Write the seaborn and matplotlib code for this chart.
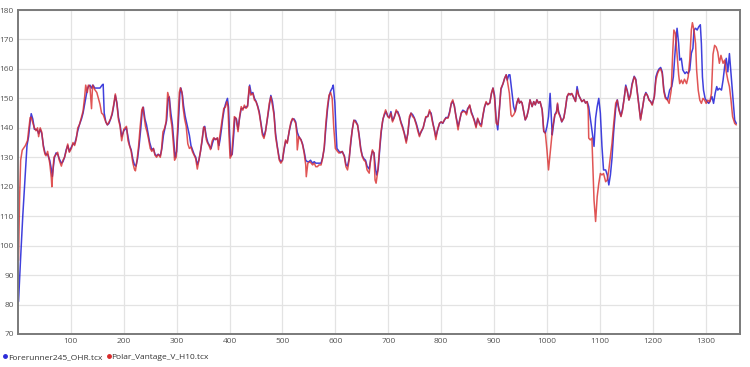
import matplotlib
matplotlib.use("Agg")
import matplotlib.pyplot as plt
import seaborn as sns
import pandas as pd
from matplotlib.lines import Line2D

series_names = ["Forerunner245_OHR.tcx", "Polar_Vantage_V_H10.tcx"]
series_colors = ["#2b2bd9", "#d92b2b"]

x_ticks = [100, 200, 300, 400, 500, 600, 700, 800, 900, 1000, 1100, 1200, 1300]
y_ticks = [70, 80, 90, 100, 110, 120, 130, 140, 150, 160, 170, 180]

# Polar (red) series: sample position and heart rate
polar_x = [1, 3, 5, 8, 14, 18, 20, 23, 25, 28, 31, 34, 37, 39, 42, 45, 48, 51, 53, 56,
           60, 63, 64, 66, 68, 72, 75, 78, 82, 85, 88, 91, 94, 97, 101, 104, 107, 110, 113, 116,
           120, 123, 126, 128, 131, 133, 136, 139, 141, 145, 149, 152, 155, 158, 161, 166, 169, 172, 175, 178,
           181, 184, 187, 190, 193, 196, 200, 205, 208, 211, 214, 217, 220, 222, 225, 228, 231, 234, 236, 239,
           241, 244, 247, 250, 253, 256, 259, 262, 265, 269, 271, 274, 277, 280, 283, 286, 288, 291, 294, 296,
           299, 302, 305, 307, 310, 312, 315, 318, 321, 324, 327, 330, 333, 336, 339, 342, 345, 348, 351, 353,
           356, 358, 361, 364, 367, 370, 373, 377, 379, 381, 384, 386, 389, 392, 395, 397, 399, 401, 404, 407,
           409, 412, 416, 419, 422, 425, 428, 431, 434, 437, 440, 444, 447, 450, 453, 456, 459, 462, 465, 468,
           471, 475, 478, 481, 484, 487, 490, 494, 497, 500, 503, 506, 509, 513, 516, 519, 522, 525, 527, 528,
           531, 535, 538, 541, 544, 545, 548, 552, 557, 560, 563, 566, 569, 573, 576, 579, 582, 585, 588, 591,
           594, 597, 600, 604, 607, 610, 613, 617, 620, 623, 626, 629, 632, 635, 638, 642, 645, 648, 651, 654,
           657, 660, 664, 667, 670, 673, 675, 677, 680, 683, 686, 689, 692, 695, 699, 702, 705, 708, 711, 715,
           718, 721, 724, 727, 730, 734, 737, 740, 743, 746, 749, 753, 756, 759, 762, 766, 768, 771, 775, 778,
           781, 784, 787, 790, 793, 797, 800, 803, 806, 809, 813, 816, 819, 822, 825, 828, 832, 835, 838, 841,
           845, 848, 850, 854, 857, 860, 863, 866, 869, 873, 876, 879, 882, 885, 888, 892, 895, 898, 901, 904,
           907, 910, 913, 917, 920, 923, 925, 929, 932, 934, 937, 940, 943, 946, 948, 951, 953, 956, 959, 962,
           965, 968, 972, 975, 978, 981, 984, 987, 991, 994, 997, 1000, 1003, 1008, 1011, 1015, 1018, 1020, 1022, 1025,
           1028, 1032, 1035, 1038, 1041, 1044, 1047, 1050, 1054, 1057, 1060, 1063, 1066, 1070, 1073, 1076, 1078, 1079, 1082, 1085,
           1089, 1092, 1095, 1098, 1101, 1104, 1107, 1111, 1114, 1117, 1120, 1123, 1126, 1130, 1133, 1136, 1140, 1143, 1146, 1149,
           1152, 1155, 1158, 1161, 1165, 1168, 1171, 1174, 1177, 1181, 1184, 1187, 1190, 1193, 1196, 1199, 1203, 1206, 1209, 1212,
           1215, 1218, 1221, 1224, 1228, 1231, 1235, 1238, 1240, 1243, 1246, 1249, 1251, 1254, 1257, 1260, 1264, 1267, 1270, 1273,
           1275, 1278, 1281, 1283, 1286, 1289, 1292, 1295, 1298, 1301, 1304, 1308, 1311, 1314, 1317, 1320, 1323, 1326, 1329, 1333,
           1336, 1339, 1342, 1345, 1348, 1351, 1355, 1358]
polar_hr = [95, 116, 129, 132.4, 134, 135.7, 139, 143.5, 143.6, 141.7, 140, 139, 140, 137, 140, 138.5, 133.5, 131, 130.5, 132,
            128, 123, 120, 125.7, 130, 131, 131.7, 129, 127, 129, 130, 132, 134.5, 131.7, 133, 135, 134, 136, 140, 141,
            143.6, 145.7, 150.5, 154.5, 152, 154.5, 154, 146.5, 154.5, 153, 152, 150, 148, 145, 144.5, 142, 141, 142, 143, 145,
            148, 151.5, 148, 142.7, 140.5, 135.6, 139.5, 140.5, 135.6, 133.8, 132, 128.2, 126, 125.4, 129, 133.8, 140.5, 146, 147, 143,
            140.5, 138.6, 136, 133, 132, 133, 130.7, 130, 131, 130, 132, 138.6, 139.8, 142, 152, 150, 144, 140.6, 134, 129,
            130, 140.5, 152, 153.6, 152, 147, 143, 140.5, 134.6, 133, 133.5, 131.8, 130.7, 129.5, 126, 129, 132, 136, 140.3, 140,
            136, 135, 134, 132.6, 135.5, 136.6, 136, 136.6, 132.6, 136.6, 140.3, 142.6, 146.6, 147, 148.9, 147.2, 137, 129.7, 130.8, 138.1,
            143.8, 143.3, 138.7, 143.8, 147.2, 146, 147.7, 146.6, 147.2, 154, 151.1, 151.7, 149.4, 148.9, 147.2, 145, 141.5, 137.6, 136.4, 138.7,
            142.6, 148.3, 150.6, 147.7, 144.4, 137, 133.6, 129, 128, 129, 133, 135.9, 134.7, 139.3, 142, 143.2, 142.6, 141.5, 138.1, 132.5,
            137, 135.9, 134.2, 131.4, 127.4, 123.4, 128, 128.5, 127.4, 128, 126.8, 126.8, 127.4, 127.4, 129.7, 133.6, 141.5, 147.2, 151.1, 152,
            150, 140, 133, 132, 131.4, 131.8, 131.9, 130.2, 126.8, 125.7, 129, 135.3, 139.3, 142.6, 142, 140.9, 137, 132.5, 130.2, 129,
            128.5, 125.7, 124.6, 129.7, 132.5, 131.4, 122.3, 121.2, 125, 131.4, 138.2, 142, 144.4, 146.1, 143.8, 143.3, 145, 142, 143.3, 146.1,
            145, 143.8, 141.6, 140, 138.2, 134.8, 138.2, 143.8, 145, 143.8, 143.3, 141, 138.8, 137, 138.8, 140, 141.6, 143.8, 143.8, 146.1,
            144.4, 141.6, 139.3, 136, 139.3, 141.6, 142, 141.6, 142.7, 143.3, 143.3, 145, 148.4, 149.5, 147.2, 143.8, 139.3, 142.7, 145, 145.5,
            145.5, 144.4, 146.1, 147.8, 145, 143.8, 142.1, 140, 143.3, 141, 140.4, 144.4, 147.2, 148.9, 147.8, 148.4, 151.8, 153.5, 150, 141.6,
            141, 146, 153.4, 155, 156.8, 158, 156.2, 151.7, 144.4, 143.8, 144.4, 145.5, 148.4, 150, 148.4, 149, 148.4, 145.5, 142.7, 143.8,
            146.1, 149.5, 147.2, 148.9, 147.8, 149.5, 148.4, 148.9, 146.1, 138.8, 138.2, 132.5, 125.7, 134.8, 140.4, 144.4, 145, 148.4, 145, 143.8,
            142.1, 143.3, 146.7, 150.6, 151.7, 151.1, 151.7, 150.6, 148.9, 152.8, 151.1, 150, 148.9, 149.5, 148.4, 148.9, 146, 136.5, 135.9, 136.5,
            115.5, 108.2, 116.6, 121.1, 124.5, 124, 124.5, 121.7, 122.3, 125.7, 130.2, 134.8, 141, 148.4, 149.4, 146, 143.8, 146, 150, 154,
            152.3, 149.4, 151, 154.5, 157.3, 156.2, 151.7, 147.2, 142.6, 147.2, 150.6, 151.7, 151, 149.4, 148.8, 147.7, 150.6, 156.2, 158.4, 159.6,
            160, 158.4, 152.3, 150, 149.4, 148.3, 152.8, 166.4, 173.2, 172, 165, 158, 155, 156.2, 155, 156.5, 155, 157.3, 163, 173.2,
            175.7, 173.2, 168.6, 159.6, 152.8, 149.4, 148.3, 150, 149.4, 148.3, 149.4, 148.8, 151.7, 165, 168, 167.4, 165.7, 161.9, 164.6, 161.9,
            163, 159, 156.2, 154, 149.4, 143.8, 141.5, 141]

# Forerunner (blue) series
forerunner_x = [1, 5, 9, 14, 17, 20, 23, 25, 28, 31, 34, 37, 39, 42, 45, 48, 51, 53, 56, 60,
                63, 65, 67, 69, 72, 75, 78, 82, 85, 88, 91, 94, 97, 101, 104, 107, 110, 113, 116, 120,
                123, 126, 129, 131, 133, 136, 139, 142, 145, 150, 155, 159, 161, 163, 166, 169, 172, 175, 178, 181,
                184, 187, 190, 193, 196, 200, 205, 208, 211, 214, 217, 220, 223, 226, 229, 232, 235, 237, 240, 243,
                246, 249, 253, 256, 259, 262, 265, 269, 272, 275, 278, 281, 284, 286, 289, 292, 295, 297, 300, 303,
                306, 308, 311, 313, 316, 319, 322, 324, 327, 330, 333, 336, 339, 342, 345, 348, 351, 353, 356, 359,
                362, 365, 368, 371, 374, 377, 380, 382, 385, 387, 390, 393, 396, 398, 400, 402, 405, 408, 410, 413,
                416, 419, 422, 425, 428, 431, 434, 438, 441, 444, 447, 450, 453, 456, 459, 462, 465, 468, 471, 475,
                478, 481, 484, 487, 490, 494, 497, 500, 503, 506, 509, 513, 516, 519, 522, 525, 528, 531, 535, 538,
                541, 544, 547, 550, 553, 557, 560, 563, 566, 569, 573, 576, 579, 582, 585, 588, 591, 594, 596, 599,
                601, 603, 607, 610, 613, 617, 620, 623, 626, 629, 632, 635, 638, 642, 645, 648, 651, 654, 657, 660,
                664, 667, 670, 673, 676, 678, 681, 684, 687, 690, 693, 696, 699, 702, 705, 708, 711, 715, 718, 721,
                724, 727, 730, 734, 737, 740, 743, 746, 749, 753, 756, 759, 762, 766, 768, 771, 775, 778, 781, 784,
                787, 790, 793, 797, 800, 803, 806, 809, 813, 816, 819, 822, 825, 828, 832, 835, 838, 841, 845, 848,
                850, 854, 857, 860, 863, 866, 869, 873, 876, 879, 882, 885, 888, 892, 895, 898, 901, 904, 907, 910,
                913, 917, 920, 923, 925, 928, 930, 934, 937, 940, 943, 946, 948, 951, 953, 956, 959, 962, 965, 968,
                972, 975, 978, 981, 984, 987, 991, 994, 997, 1000, 1003, 1006, 1010, 1012, 1015, 1018, 1020, 1022, 1025, 1028,
                1032, 1035, 1038, 1041, 1044, 1047, 1050, 1054, 1057, 1060, 1063, 1066, 1070, 1073, 1076, 1079, 1082, 1085, 1089, 1092,
                1095, 1098, 1101, 1104, 1107, 1111, 1114, 1117, 1120, 1123, 1126, 1130, 1133, 1136, 1140, 1143, 1146, 1149, 1152, 1155,
                1158, 1161, 1165, 1168, 1171, 1174, 1177, 1181, 1184, 1187, 1190, 1193, 1196, 1199, 1203, 1206, 1209, 1212, 1215, 1218,
                1221, 1224, 1228, 1232, 1236, 1239, 1243, 1246, 1249, 1251, 1254, 1257, 1261, 1264, 1267, 1270, 1273, 1276, 1278, 1281,
                1284, 1287, 1290, 1292, 1294, 1296, 1299, 1303, 1306, 1309, 1312, 1315, 1318, 1321, 1323, 1326, 1330, 1333, 1336, 1339,
                1342, 1345, 1348, 1351, 1355, 1358]
forerunner_hr = [81, 96, 110, 125, 134, 137, 142, 144.8, 143, 139.5, 139.5, 139, 138, 139.5, 138, 134, 131.5, 131, 131, 129,
                 126, 123.5, 127, 130, 131.5, 131, 129.5, 128, 128.5, 130, 132.5, 134, 132, 133.5, 134.5, 134.5, 136.5, 139, 141, 143,
                 145, 148, 151, 153, 154, 154.5, 153.5, 154.5, 153.5, 153.5, 153.5, 154.5, 154.8, 145, 142, 141, 141.5, 143, 144.5, 147.5,
                 151, 148.5, 143.5, 141, 137, 139, 140, 137, 134, 132.5, 129.5, 127.5, 127, 129.5, 134, 139.5, 146, 147, 143, 141,
                 138, 135, 132.5, 133, 131, 130.5, 131, 130.5, 133, 137.5, 140, 142.5, 150, 150.5, 145, 141, 134.5, 130, 132, 141,
                 151.5, 153.5, 151, 147.5, 144, 141.5, 139, 137.5, 134, 132.5, 131, 130, 127.5, 129, 132, 135.5, 140, 140.5, 137, 135,
                 134, 133, 135, 136.5, 136, 136.5, 134, 136, 140, 143, 146.5, 148.5, 150, 147, 138, 130.5, 131, 138, 143.5, 143,
                 139.5, 143.5, 146.5, 146.5, 147, 147, 147.5, 154.5, 151.5, 152, 150, 149, 147.5, 145.5, 142, 138.5, 137, 139, 142.5, 147.5,
                 151, 149, 145, 138, 134, 129.5, 128.5, 129, 132.5, 135.5, 135, 139, 141.5, 143, 143, 142, 138.5, 137, 136, 134.5,
                 132, 129, 128.5, 128.5, 129, 128, 128.5, 128, 128, 128, 128, 130, 133, 140, 146, 150.5, 152.5, 153.5, 154.5, 148.5,
                 140, 133, 132, 131.5, 132, 130.5, 127.5, 127, 129.5, 134.5, 139.5, 142.5, 142.5, 141, 137.5, 133, 130.5, 129.5, 129, 127,
                 126, 129.5, 132, 131.5, 126, 124, 126, 133, 139, 143, 144.5, 145.5, 144, 143.5, 145.5, 142.5, 143.5, 145.5, 145.5, 144,
                 142, 140.5, 138.5, 135.5, 138, 143, 145, 144.5, 143.5, 141.5, 139.5, 137.5, 138.5, 140, 141.5, 143.5, 144, 145.5, 145, 142,
                 139.5, 137, 139, 141.5, 142, 141.5, 142.5, 143.5, 143.5, 145.5, 148, 149, 147.5, 144, 140.5, 142.5, 145, 146, 145.5, 145,
                 146.5, 147.5, 145.5, 144, 142.5, 140.5, 143, 141.5, 141, 144, 147, 148.5, 148, 148.5, 151.5, 153.5, 151, 143, 139.3, 146,
                 153, 155, 156.8, 158, 156.2, 158, 158, 151.7, 147.2, 145.5, 148.4, 150, 148.4, 149, 148.4, 145.5, 142.7, 143.8, 146.1, 149.5,
                 147.2, 148.9, 147.8, 149.5, 148.4, 148.9, 146.1, 138.8, 138.2, 140.4, 143.8, 151.7, 137.6, 140.5, 144.5, 145.5, 148, 145.5, 144, 142,
                 143.5, 146.5, 150.5, 151.5, 151.5, 151.5, 150.5, 149, 154, 151.1, 150, 148.9, 149.5, 148.4, 148.9, 147.2, 143.3, 139.3, 133.7, 143.3,
                 147.2, 150, 145, 133.7, 125.7, 125.7, 124, 120.6, 124, 129.6, 138.2, 146.7, 149.5, 146.5, 144, 146.5, 150, 154.5, 152.5, 149.5,
                 151.5, 155, 157.5, 156.5, 152, 147.5, 143, 147, 150.5, 152, 151, 149.5, 149, 148, 150.5, 157.3, 159, 160, 160.5, 159,
                 153, 150.5, 149.5, 152.8, 154, 157.3, 167.6, 173.8, 168.6, 163, 163.6, 159.6, 158.4, 159, 158.4, 159.6, 165.3, 167, 173.2, 173.8,
                 173.2, 174.3, 175, 168.6, 157.3, 152.8, 150, 148.8, 148.3, 149.4, 150.6, 148.3, 151.7, 154, 152.8, 153.4, 152.8, 156.2, 160.8, 163.6,
                 159, 165.2, 158.4, 151.7, 142.6, 141.5]

frames = []
for name, xs, ys in [(series_names[0], forerunner_x, forerunner_hr),
                     (series_names[1], polar_x, polar_hr)]:
    frames.append(pd.DataFrame({"t": xs, "hr": ys, "device": name}))
df = pd.concat(frames, ignore_index=True)

sns.set_style("white")
plt.rcParams["font.family"] = ["Open Sans", "DejaVu Sans"]

fig = plt.figure(figsize=(7.5, 3.67), dpi=100)
ax = fig.add_axes([18 / 750, 1 - 334 / 367, 722 / 750, 324 / 367])

for name, color, alpha in zip(series_names, series_colors, [0.9, 0.8]):
    sub = df[df["device"] == name]
    sns.lineplot(data=sub, x="t", y="hr", ax=ax, color=color, linewidth=1.1,
                 alpha=alpha, estimator=None, sort=False, legend=False)

ax.set_xlim(0, 1365)
ax.set_ylim(70, 180)
ax.set_xticks(x_ticks)
ax.set_xticklabels([str(v) for v in x_ticks])
ax.set_yticks(y_ticks)
ax.set_yticklabels([str(v) for v in y_ticks])
ax.tick_params(axis="both", length=0, labelsize=6, labelcolor="#555555", pad=3)
ax.grid(True, color="#e3e3e3", linewidth=0.9)
ax.set_axisbelow(True)
ax.set_xlabel("")
ax.set_ylabel("")
for side, sp in ax.spines.items():
    sp.set_visible(True)
    sp.set_color("#7a7a7a")
    sp.set_linewidth(1.4)

handles = [Line2D([0], [0], marker="o", color="none", markerfacecolor=c,
                  markeredgecolor=c, markersize=2.5) for c in series_colors]
fig.legend(handles, series_names, loc="lower left", bbox_to_anchor=(-0.003, 0.0),
           ncol=2, frameon=False, fontsize=6, handlelength=0.4, handletextpad=0.1,
           columnspacing=0.6, borderaxespad=0.3, labelcolor="#333333")

fig.savefig("out.png", dpi=100)
